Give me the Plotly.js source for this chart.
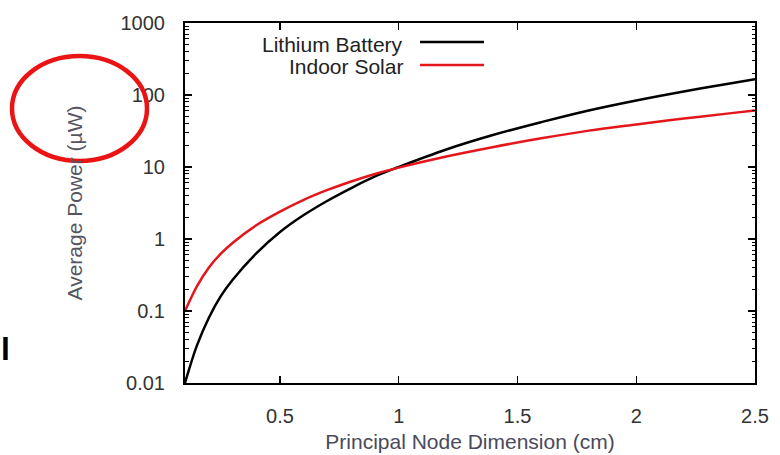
<!DOCTYPE html>
<html>
<head>
<meta charset="utf-8">
<script src="https://cdn.plot.ly/plotly-3.0.1.min.js"></script>
<style>
  html, body { margin: 0; padding: 0; background: #fff; }
  #chart { width: 780px; height: 455px; }
</style>
</head>
<body>
<div id="chart"></div>
<script>
// Principal node dimension (cm)
const dimension = [0.1, 0.15, 0.2, 0.25, 0.3, 0.4, 0.5, 0.6, 0.7, 0.8, 0.9, 1.0, 1.2, 1.4, 1.6, 1.8, 2.0, 2.2, 2.4, 2.5];
// Average power (µW)
const lithiumBattery = [0.01, 0.033, 0.08, 0.16, 0.27, 0.63, 1.25, 2.15, 3.4, 5.1, 7.4, 10, 17.5, 28, 42, 61, 84, 112, 146, 166];
const indoorSolar = [0.1, 0.22, 0.40, 0.62, 0.88, 1.55, 2.4, 3.5, 4.8, 6.3, 8.0, 9.8, 14, 19, 25, 32, 39, 47, 56, 61];

const seriesNames = ["Lithium Battery", "Indoor Solar"];
const yTickVals = [0.01, 0.1, 1, 10, 100, 1000];
const yTickText = ["0.01", "0.1", "1", "10", "100", "1000"];
const xTickVals = [0.5, 1, 1.5, 2, 2.5];
const xTickText = ["0.5", "1", "1.5", "2", "2.5"];

const FONT = "Liberation Sans, Arial, Helvetica, sans-serif";
const colors = ["#000000", "rgb(228,22,28)"];

// minor log ticks (2..9 within each decade)
const yMinorVals = [];
yTickVals.slice(0, -1).forEach(d => { for (let k = 2; k <= 9; k++) yMinorVals.push(d * k); });

const traces = [
  { x: dimension, y: lithiumBattery, name: seriesNames[0], mode: "lines",
    line: { color: colors[0], width: 2.5, shape: "spline", smoothing: 1 } },
  { x: dimension, y: indoorSolar, name: seriesNames[1], mode: "lines",
    line: { color: colors[1], width: 2.5, shape: "spline", smoothing: 1 } }
];

// pixel -> paper helpers (plot area 185..755 x 23..383)
const L = 185, R = 755, T = 23, B = 383;
const px = v => (v - L) / (R - L);
const py = v => (B - v) / (B - T);

const layout = {
  width: 780, height: 455,
  margin: { l: L, r: 780 - R, t: T, b: 455 - B },
  paper_bgcolor: "#ffffff", plot_bgcolor: "#ffffff",
  showlegend: false,
  font: { family: FONT, color: "#333333" },
  xaxis: {
    range: [0.1, 2.5], tickvals: xTickVals, ticktext: xTickText,
    ticks: "inside", ticklen: 7, tickwidth: 1.2, tickcolor: "#000",
    showline: true, linecolor: "#000", linewidth: 2, mirror: "allticks",
    showgrid: false, zeroline: false, ticklabelstandoff: 14,
    tickfont: { family: FONT, size: 20, color: "#333333" },
    title: { text: "Principal Node Dimension (cm)", standoff: 8,
             font: { family: FONT, size: 21, color: "#4a4a5a" } }
  },
  yaxis: {
    type: "log", range: [-2, 3], tickvals: yTickVals, ticktext: yTickText,
    ticks: "inside", ticklen: 7, tickwidth: 1.2, tickcolor: "#000",
    minor: { ticks: "inside", ticklen: 3.5, tickwidth: 1, tickcolor: "#000",
             tickvals: yMinorVals, showgrid: false },
    showline: true, linecolor: "#000", linewidth: 2, mirror: "allticks",
    showgrid: false, zeroline: false, ticklabelstandoff: 14,
    tickfont: { family: FONT, size: 20, color: "#333333" },
    title: { text: "Average Power (\u00b5W)", standoff: 32,
             font: { family: FONT, size: 21, color: "#55555f" } }
  },
  annotations: [
    { xref: "paper", yref: "paper", x: px(405), y: py(44), xanchor: "right", yanchor: "middle",
      text: seriesNames[0], showarrow: false, font: { family: FONT, size: 21, color: "#222" } },
    { xref: "paper", yref: "paper", x: px(405), y: py(66), xanchor: "right", yanchor: "middle",
      text: seriesNames[1], showarrow: false, font: { family: FONT, size: 21, color: "#222" } },
    { xref: "paper", yref: "paper", x: px(12), y: py(349), xanchor: "right", yanchor: "middle",
      text: "<b>l</b>", showarrow: false, font: { family: FONT, size: 32, color: "#000" } }
  ],
  shapes: [
    { type: "line", xref: "paper", yref: "paper", x0: px(420), x1: px(484), y0: py(42), y1: py(42),
      line: { color: colors[0], width: 2.5 } },
    { type: "line", xref: "paper", yref: "paper", x0: px(420), x1: px(484), y0: py(65), y1: py(65),
      line: { color: colors[1], width: 2.5 } },
    { type: "circle", xref: "paper", yref: "paper", x0: px(12), x1: px(147), y0: py(56), y1: py(161),
      line: { color: "rgb(235,20,20)", width: 4.5 }, fillcolor: "rgba(0,0,0,0)" }
  ]
};

Plotly.newPlot("chart", traces, layout, { displayModeBar: false, staticPlot: true });
</script>
</body>
</html>
